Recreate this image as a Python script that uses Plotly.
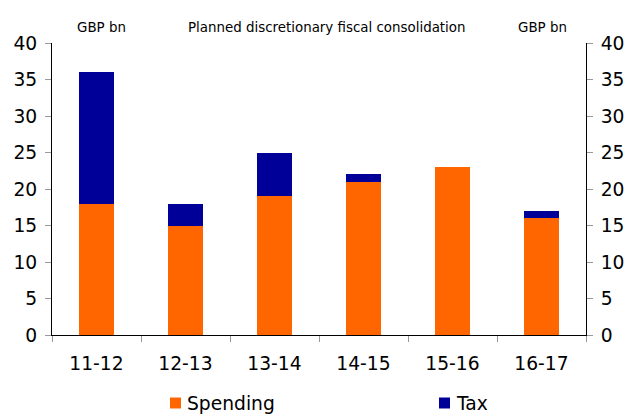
import plotly.graph_objects as go

categories = ["11-12", "12-13", "13-14", "14-15", "15-16", "16-17"]
spending = [18, 15, 19, 21, 23, 16]
tax = [18, 3, 6, 1, 0, 1]
y_ticks = [0, 5, 10, 15, 20, 25, 30, 35, 40]
series_names = ["Spending", "Tax"]
series_colors = ["#FF6600", "#000099"]

FONT = "Verdana, DejaVu Sans, sans-serif"
W, H = 629, 414
ML, MR, MT, MB = 52, 43, 43, 79
PW, PH = W - ML - MR, H - MT - MB

def px_x(x):
    return (x - ML) / PW

def px_y(y):
    return (H - MB - y) / PH

fig = go.Figure()
for name, vals, col in zip(series_names, [spending, tax], series_colors):
    fig.add_trace(go.Bar(x=categories, y=vals, name=name,
                         marker=dict(color=col, line=dict(width=0)), width=0.39))
fig.add_trace(go.Scatter(x=categories, y=spending, yaxis="y2", mode="none",
                         showlegend=False, hoverinfo="skip"))

axis_common = dict(range=[0, 40], tickvals=y_ticks, ticks="outside", ticklen=6,
                   tickcolor="#999999", showline=True, linecolor="black",
                   linewidth=1, showgrid=False, zeroline=False,
                   ticklabelstandoff=4,
                   tickfont=dict(family=FONT, size=18.7, color="black"))

# custom legend (square + text), positioned like the reference
legend_x = [170, 439]
shapes = []
annotations = []
for lx, name, col in zip(legend_x, series_names, series_colors):
    shapes.append(dict(type="rect", xref="paper", yref="paper",
                       x0=px_x(lx), x1=px_x(lx + 11), y0=px_y(408.5), y1=px_y(397.5),
                       fillcolor=col, line=dict(width=0)))
    annotations.append(dict(text=name, x=px_x(lx + 15), y=px_y(403), xref="paper",
                            yref="paper", xanchor="left", yanchor="middle",
                            showarrow=False, font=dict(size=18.7)))

annotations += [
    dict(text="GBP bn", x=px_x(75), y=px_y(18), xref="paper", yref="paper",
         showarrow=False, font=dict(size=13.4)),
    dict(text="Planned discretionary fiscal consolidation", x=px_x(326), y=px_y(18),
         xref="paper", yref="paper", showarrow=False, font=dict(size=13.4)),
    dict(text="GBP bn", x=px_x(569), y=px_y(18), xref="paper", yref="paper",
         showarrow=False, font=dict(size=13.4)),
]

fig.update_layout(
    barmode="stack",
    width=W, height=H,
    margin=dict(l=ML, r=MR, t=MT, b=MB, autoexpand=False),
    plot_bgcolor="white", paper_bgcolor="white",
    font=dict(family=FONT, color="black"),
    xaxis=dict(type="category", tickson="boundaries", ticks="outside", ticklen=6,
               tickcolor="#999999", showline=True, linecolor="black",
               linewidth=1, showgrid=False, ticklabelstandoff=12,
               tickfont=dict(family=FONT, size=18.7, color="black")),
    yaxis=dict(**axis_common, side="left"),
    yaxis2=dict(**axis_common, side="right", overlaying="y"),
    showlegend=False,
    shapes=shapes,
    annotations=annotations,
)

fig.write_html("out.html")
